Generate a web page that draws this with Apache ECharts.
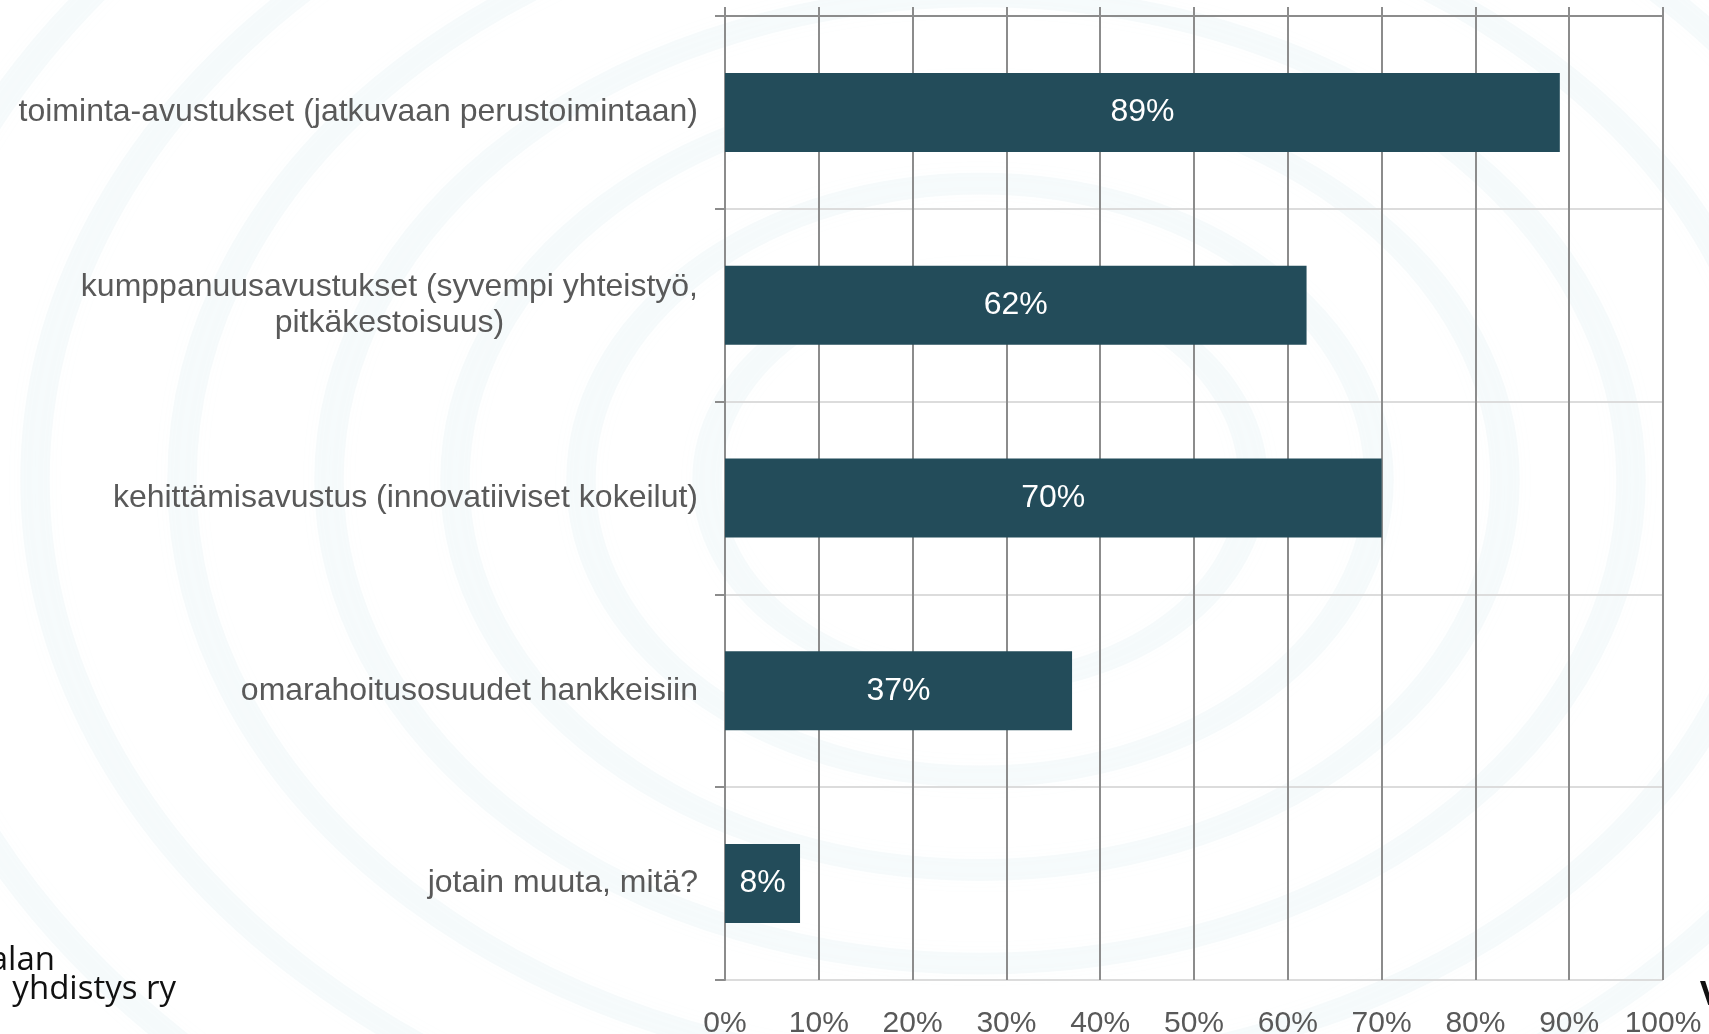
<!DOCTYPE html>
<html>
<head>
<meta charset="utf-8">
<script src="https://cdn.jsdelivr.net/npm/echarts@6/dist/echarts.min.js"></script>
<style>
html,body{margin:0;padding:0;background:#ffffff;}
#chart{width:1709px;height:1034px;}
</style>
</head>
<body>
<div id="chart"></div>
<script>
const categories = [
  'toiminta-avustukset (jatkuvaan perustoimintaan)',
  'kumppanuusavustukset (syvempi yhteistyö,\npitkäkestoisuus)',
  'kehittämisavustus (innovatiiviset kokeilut)',
  'omarahoitusosuudet hankkeisiin',
  'jotain muuta, mitä?'
];
const values = [89, 62, 70, 37, 8];
const tickLabels = ['0%','10%','20%','30%','40%','50%','60%','70%','80%','90%','100%'];

const FONT = '"Liberation Sans", Arial, sans-serif';
const GRID_DARK = '#8c8c8c';
const GRID_LIGHT = '#dcdcdc';

const chart = echarts.init(document.getElementById('chart'));

// decorative faint ripple watermark
const ripples = [];
[260, 380, 500, 620, 760, 900, 1050].forEach(function (r) {
  ripples.push({
    type: 'circle',
    silent: true,
    z: -10,
    x: 980, y: 480,
    scaleX: 1.05, scaleY: 0.78,
    shape: { cx: 0, cy: 0, r: r },
    style: { fill: null, stroke: 'rgba(205,230,236,0.16)', lineWidth: 28, shadowBlur: 20, shadowColor: 'rgba(205,230,236,0.2)' }
  });
});

chart.setOption({
  animation: false,
  backgroundColor: '#ffffff',
  grid: { left: 725, right: 46, top: 16, bottom: 54, containLabel: false, outerBoundsMode: 'none' },
  xAxis: [
    {
      type: 'value',
      min: 0, max: 100, interval: 10,
      position: 'bottom',
      axisLine: { show: false },
      axisTick: { show: false },
      axisLabel: {
        fontSize: 30, color: '#595959', fontFamily: FONT, margin: 29,
        formatter: function (v) { return tickLabels[Math.round(v / 10)]; }
      },
      splitLine: { show: true, lineStyle: { color: GRID_DARK, width: 2 } }
    },
    {
      type: 'value',
      min: 0, max: 100, interval: 10,
      position: 'top',
      axisLine: { show: true, lineStyle: { color: GRID_DARK, width: 2 } },
      axisTick: { show: true, length: 9, lineStyle: { color: GRID_DARK, width: 2 } },
      axisLabel: { show: false },
      splitLine: { show: false }
    }
  ],
  yAxis: {
    type: 'category',
    data: categories,
    inverse: true,
    axisLine: { show: true, lineStyle: { color: GRID_DARK, width: 2 } },
    axisTick: { show: true, length: 10, lineStyle: { color: GRID_DARK, width: 2 } },
    splitLine: { show: true, lineStyle: { color: GRID_LIGHT, width: 2 } },
    axisLabel: {
      margin: 27,
      align: 'right',
      formatter: function (v) {
        return v.split('\n').map(function (l) { return '{a|' + l + '}'; }).join('\n');
      },
      rich: {
        a: { fontSize: 32, color: '#595959', fontFamily: FONT, align: 'center', lineHeight: 36 }
      }
    }
  },
  series: [{
    type: 'bar',
    data: values,
    barWidth: 79,
    itemStyle: { color: '#234c5a' },
    label: {
      show: true,
      position: 'inside',
      color: '#ffffff',
      fontSize: 32,
      fontFamily: FONT,
      formatter: '{c}%'
    }
  }],
  graphic: ripples.concat([
    {
      type: 'text', silent: true, x: 55, y: 977,
      style: { text: 'alan', fill: '#111111', font: '33px "Open Sans", "Noto Sans", sans-serif', textAlign: 'right', textVerticalAlign: 'bottom' }
    },
    {
      type: 'text', silent: true, x: 176, y: 1006,
      style: { text: 'yhdistys ry', fill: '#111111', font: '33px "Open Sans", "Noto Sans", sans-serif', textAlign: 'right', textVerticalAlign: 'bottom' }
    },
    {
      type: 'text', silent: true, x: 1700, y: 978,
      style: { text: 'V', fill: '#111111', font: 'bold 34px "Open Sans", sans-serif', textAlign: 'left', textVerticalAlign: 'top' }
    }
  ])
});
</script>
</body>
</html>
